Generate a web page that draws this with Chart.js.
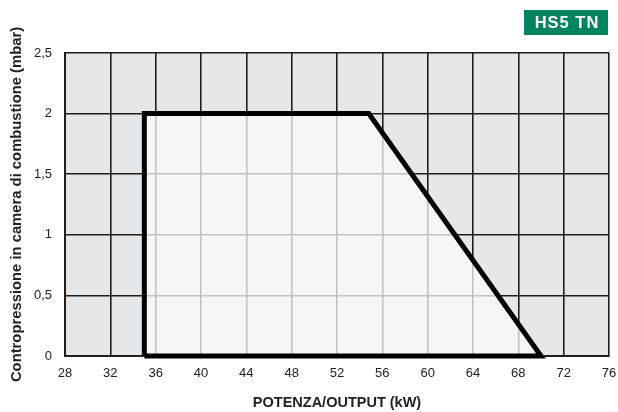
<!DOCTYPE html>
<html>
<head>
<meta charset="utf-8">
<script src="https://cdn.jsdelivr.net/npm/chart.js@4"></script>
<style>
  html, body { margin: 0; padding: 0; background: #fff; }
  #wrap { width: 618px; height: 412px; }
</style>
</head>
<body>
<div id="wrap"><canvas id="fieldChart"></canvas></div>
<script>
// Working field of the burner (output vs combustion chamber back pressure)
const powerKW = [35, 35, 54.8, 70, 35];
const pressureMbar = [0, 2, 2, 0, 0];

// Axis ranges / ticks
const xMin = 28, xMax = 76, xStep = 4;
const yMin = 0, yMax = 2.5, yStep = 0.5;
const badgeText = "HS5 TN";

const points = powerKW.map((x, i) => ({ x: x, y: pressureMbar[i] }));

// grey plot background
const plotBackground = {
  id: "plotBackground",
  beforeDraw(chart) {
    const { ctx, chartArea: a } = chart;
    ctx.save();
    ctx.fillStyle = "#e5e8eb";
    ctx.fillRect(a.left, a.top, a.right - a.left, a.bottom - a.top);
    ctx.restore();
  },
};

// green model badge top right
const badge = {
  id: "badge",
  afterDraw(chart) {
    const ctx = chart.ctx;
    ctx.save();
    ctx.fillStyle = "#00835f";
    ctx.fillRect(524, 10, 84, 25);
    ctx.fillStyle = "#ffffff";
    ctx.font = "bold 16.5px 'Liberation Sans', Arial, sans-serif";
    ctx.letterSpacing = "1px";
    ctx.textAlign = "center";
    ctx.textBaseline = "middle";
    ctx.fillText(badgeText, 567, 23);
    ctx.restore();
  },
};

const ctx = document.getElementById("fieldChart").getContext("2d");
new Chart(ctx, {
  type: "line",
  data: {
    datasets: [
      {
        data: points,
        borderColor: "#000000",
        borderWidth: 5,
        borderJoinStyle: "miter",
        backgroundColor: "rgba(250, 251, 252, 0.74)",
        fill: "shape",
        pointRadius: 0,
        tension: 0,
        clip: 10,
      },
    ],
  },
  options: {
    responsive: true,
    maintainAspectRatio: false,
    animation: false,
    layout: { padding: { top: 53, right: 9, left: 0, bottom: 0 } },
    plugins: {
      legend: { display: false },
      tooltip: { enabled: false },
    },
    scales: {
      x: {
        type: "linear",
        min: xMin,
        max: xMax,
        afterFit: (s) => {
          s.height = 56;
          s.paddingLeft = 0;
          s.paddingRight = 0;
        },
        ticks: {
          stepSize: xStep,
          padding: 10,
          color: "#222",
          font: { family: "'Liberation Sans', Arial, sans-serif", size: 13 },
        },
        grid: { color: "#1e1e1e", lineWidth: 1.6, drawTicks: false },
        border: { color: "#1e1e1e", width: 2 },
        title: {
          display: true,
          text: "POTENZA/OUTPUT (kW)",
          color: "#222",
          padding: { top: 0, bottom: 0 },
          font: { family: "'Liberation Sans', Arial, sans-serif", size: 14.5, weight: "bold" },
        },
      },
      y: {
        min: yMin,
        max: yMax,
        afterFit: (s) => { s.width = 65; },
        ticks: {
          stepSize: yStep,
          padding: 13,
          color: "#222",
          font: { family: "'Liberation Sans', Arial, sans-serif", size: 13 },
          callback: (v) => String(v).replace(".", ","),
        },
        grid: { color: "#1e1e1e", lineWidth: 1.6, drawTicks: false },
        border: { color: "#1e1e1e", width: 2 },
        title: {
          display: true,
          text: "Contropressione in camera di combustione (mbar)",
          color: "#222",
          padding: { top: 8.5, bottom: 0 },
          font: { family: "'Liberation Sans', Arial, sans-serif", size: 14.8, weight: "bold" },
        },
      },
    },
  },
  plugins: [plotBackground, badge],
});
</script>
</body>
</html>
